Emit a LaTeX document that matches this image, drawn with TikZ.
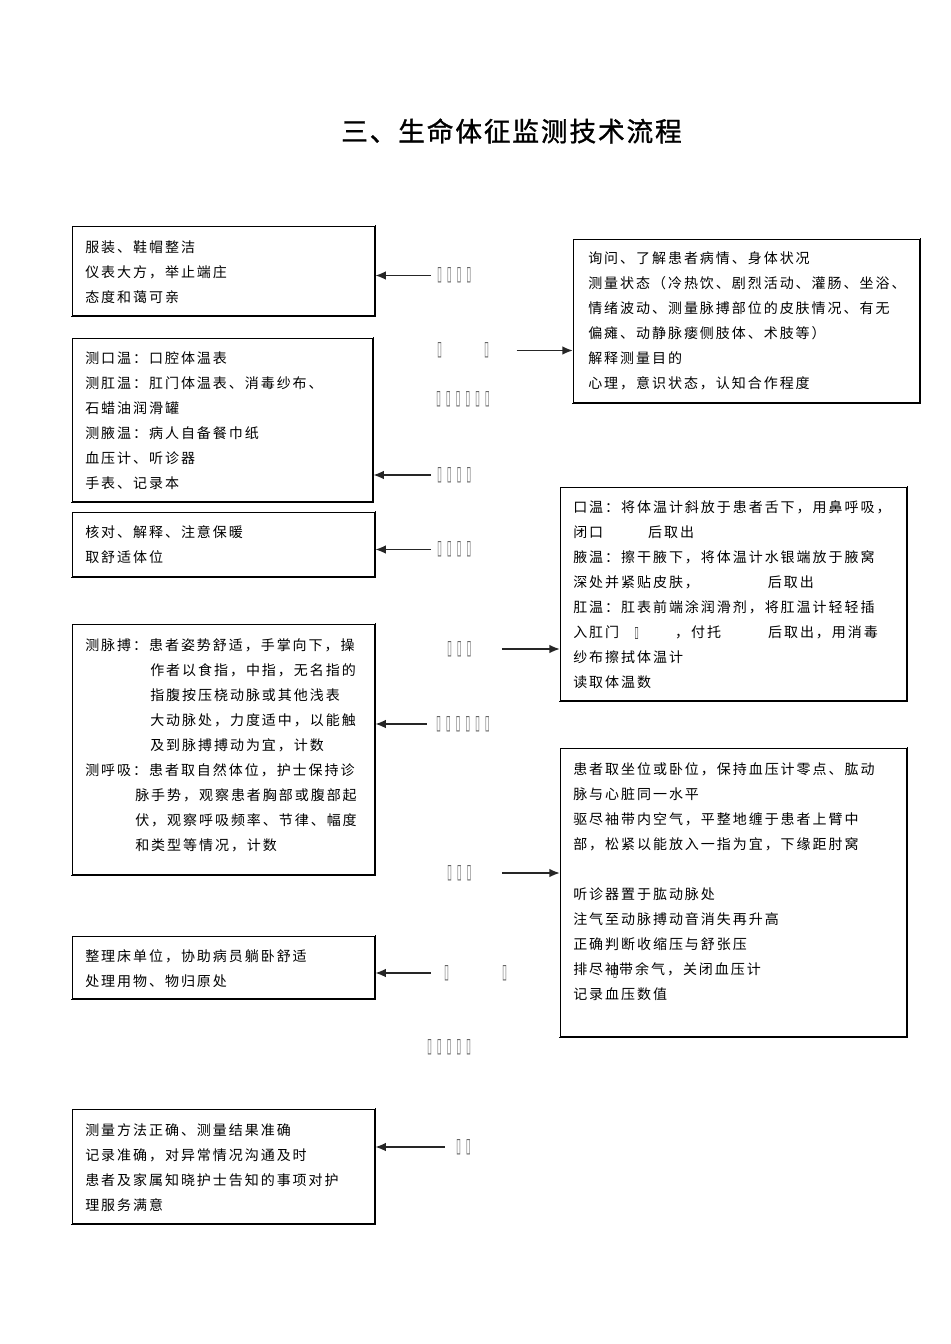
\documentclass[tikz,border=0pt]{standalone}
\usepackage{fontspec}
\usepackage{graphicx}
\usetikzlibrary{arrows.meta,calc}
\newfontfamily\cjk{Noto Sans CJK SC}[LetterSpace=14]
\newfontfamily\cjktitle{Noto Sans CJK SC}[LetterSpace=7,FakeBold=1.2]
\newfontfamily\dvs{DejaVu Sans}
\newcommand\nd{\makebox[7.3pt]{\textcolor{black!60}{\resizebox{3.75pt}{9.75pt}{\dvs ▯}}}}
\newcommand\ndd{\makebox[6pt]{\textcolor{black!80}{\resizebox{3.4pt}{7.5pt}{\dvs ▯}}}}
\newcommand\fst{\rule{0pt}{9.75pt}}
\tikzset{
  box/.style={draw=black, line width=0.9pt, inner sep=0pt, anchor=north west},
  shd/.style={draw=black, line width=1.3pt, line cap=rect},
  txt/.style={anchor=north west, inner sep=0pt, align=left, font=\cjk\fontsize{10.5pt}{18.75pt}\selectfont},
  lab/.style={inner sep=0pt, anchor=west},
  arr/.style={-{Latex[length=8pt,width=6.5pt]}, line width=1.4pt, draw=black!85},
}
\newcommand\shadow[1]{\draw[shd] ([xshift=0.25pt]#1.north east) -- ([xshift=0.25pt,yshift=-0.25pt]#1.south east) -- ([yshift=-0.25pt]#1.south west);}
\begin{document}
\begin{tikzpicture}[x=0.75pt,y=-0.75pt]
\useasboundingbox (0,0) rectangle (950,1344);
% title
\node[inner sep=0pt, font=\cjktitle\fontsize{20pt}{24pt}\selectfont] (title) at (511.5,131) {三、生命体征监测技术流程};
% left boxes
\node[box, minimum width=226.5pt, minimum height=66.75pt] (L1) at (72,226) {};
\node[box, minimum width=225pt, minimum height=122.25pt] (L2) at (72,338) {};
\node[box, minimum width=226.5pt, minimum height=48pt] (L3) at (72,512) {};
\node[box, minimum width=226.5pt, minimum height=187.5pt] (L4) at (72,624) {};
\node[box, minimum width=226.5pt, minimum height=46.5pt] (L5) at (72,936) {};
\node[box, minimum width=226.5pt, minimum height=85.5pt] (L6) at (72,1109) {};
% right boxes
\node[box, minimum width=259.5pt, minimum height=122.25pt] (R1) at (573,239) {};
\node[box, minimum width=259.5pt, minimum height=159.75pt] (R2) at (560,487) {};
\node[box, minimum width=259.5pt, minimum height=216pt] (R3) at (560,748) {};
\shadow{L1}\shadow{L2}\shadow{L3}\shadow{L4}\shadow{L5}\shadow{L6}
\shadow{R1}\shadow{R2}\shadow{R3}
% texts
\node[txt] (tL1) at (85,239.3) {\fst 服装、鞋帽整洁\\仪表大方，举止端庄\\态度和蔼可亲};
\node[txt] (tL2) at (85,350.3) {\fst 测口温：口腔体温表\\测肛温：肛门体温表、消毒纱布、\\石蜡油润滑罐\\测腋温：病人自备餐巾纸\\血压计、听诊器\\手表、记录本};
\node[txt] (tL3) at (85,524.3) {\fst 核对、解释、注意保暖\\取舒适体位};
\node[txt] (tL4) at (85,637.3) {\fst 测脉搏：患者姿势舒适，手掌向下，操\\
\hspace*{48.75pt}作者以食指，中指，无名指的\\
\hspace*{48.75pt}指腹按压桡动脉或其他浅表\\
\hspace*{48.75pt}大动脉处，力度适中，以能触\\
\hspace*{48.75pt}及到脉搏搏动为宜，计数\\
测呼吸：患者取自然体位，护士保持诊\\
\hspace*{37.5pt}脉手势，观察患者胸部或腹部起\\
\hspace*{37.5pt}伏，观察呼吸频率、节律、幅度\\
\hspace*{37.5pt}和类型等情况，计数};
\node[txt] (tL5) at (85,948.3) {\fst 整理床单位，协助病员躺卧舒适\\处理用物、物归原处};
\node[txt] (tL6) at (85,1122.3) {\fst 测量方法正确、测量结果准确\\记录准确，对异常情况沟通及时\\患者及家属知晓护士告知的事项对护\\理服务满意};
\node[txt] (tR1) at (588,250.3) {\fst 询问、了解患者病情、身体状况\\测量状态（冷热饮、剧烈活动、灌肠、坐浴、\\情绪波动、测量脉搏部位的皮肤情况、有无\\偏瘫、动静脉瘘侧肢体、术肢等）\\解释测量目的\\心理，意识状态，认知合作程度};
\node[txt] (tR2) at (573,499.3) {\fst 口温：将体温计斜放于患者舌下，用鼻呼吸，\\
闭口\hspace{33.75pt}后取出\\
腋温：擦干腋下，将体温计水银端放于腋窝\\
深处并紧贴皮肤，\hspace{51.75pt}后取出\\
肛温：肛表前端涂润滑剂，将肛温计轻轻插\\
入肛门\hspace{10pt}\ndd\hspace{26pt}，付托\hspace{35.25pt}后取出，用消毒\\
纱布擦拭体温计\\
读取体温数};
\node[txt] (tR3) at (573,761.3) {\fst 患者取坐位或卧位，保持血压计零点、肱动\\
脉与心脏同一水平\\
驱尽袖带内空气，平整地缠于患者上臂中\\
部，松紧以能放入一指为宜，下缘距肘窝\\
~\\
听诊器置于肱动脉处\\
注气至动脉搏动音消失再升高\\
正确判断收缩压与舒张压\\
排尽袖\llap{\raisebox{-1.5pt}{\ndd}}带余气，关闭血压计\\
记录血压数值};
% labels (missing glyphs)
\node[lab] (A1) at (434.6,275.5) {\nd\nd\nd\nd};
\node[lab] (A2) at (434.6,350.5) {\nd\hspace{27.95pt}\nd};
\node[lab] (A3) at (433.6,399.5) {\nd\nd\nd\nd\nd\nd};
\node[lab] (A4) at (434.6,475) {\nd\nd\nd\nd};
\node[lab] (A5) at (434.6,549.5) {\nd\nd\nd\nd};
\node[lab] (A6) at (444.6,649) {\nd\nd\nd};
\node[lab] (A7) at (433.6,724) {\nd\nd\nd\nd\nd\nd};
\node[lab] (A8) at (444.6,873) {\nd\nd\nd};
\node[lab] (A9) at (441.6,973) {\nd\hspace{36.2pt}\nd};
\node[lab] (A10) at (424.6,1047) {\nd\nd\nd\nd\nd};
\node[lab] (A11) at (453.6,1147) {\nd\nd};
% arrows
\draw[arr] ([xshift=-2.7pt]A1.west) -- (A1.west -| L1.east);
\draw[arr] ([xshift=18.5pt]A2.east) -- (A2.east -| R1.west);
\draw[arr] ([xshift=-2.7pt]A4.west) -- (A4.west -| L2.east);
\draw[arr] ([xshift=-2.7pt]A5.west) -- (A5.west -| L3.east);
\draw[arr] ([xshift=20.7pt]A6.east) -- (A6.east -| R2.west);
\draw[arr] ([xshift=-5pt]A7.west) -- (A7.west -| L4.east);
\draw[arr] ([xshift=20.7pt]A8.east) -- (A8.east -| R3.west);
\draw[arr] ([xshift=-8pt]A9.west) -- (A9.west -| L5.east);
\draw[arr] ([xshift=-6.5pt]A11.west) -- (A11.west -| L6.east);
\end{tikzpicture}
\end{document}
